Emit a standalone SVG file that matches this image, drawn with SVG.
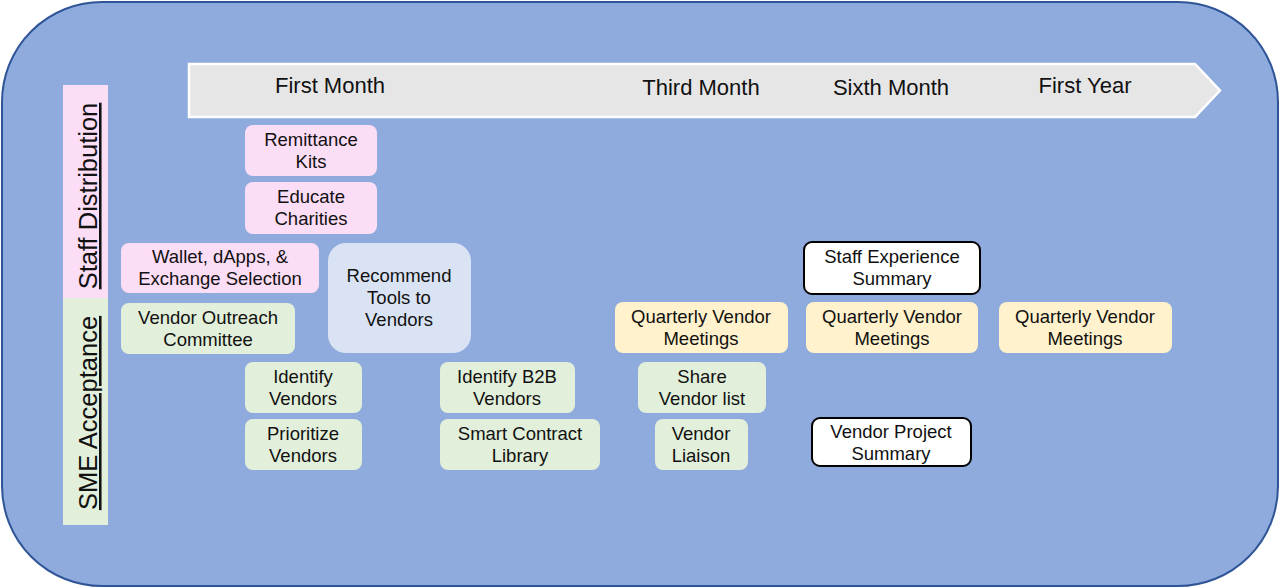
<svg xmlns="http://www.w3.org/2000/svg" width="1280" height="588" viewBox="0 0 1280 588">
<style>
text{font-family:"Liberation Sans",Arial,sans-serif;fill:#111;text-anchor:middle}
.n{font-size:18.5px}
.h{font-size:22px}
.lane{font-size:25.5px;text-decoration:underline}
.pk{fill:#FCDDF6}
.gr{fill:#E2EFDA}
.yl{fill:#FFF2CC}
.bl{fill:#DAE3F3}
.wh{fill:#FFFFFF;stroke:#000;stroke-width:2}
</style>
<rect x="2" y="2" width="1276" height="584" rx="100" ry="100" fill="#8FAADC" stroke="#2F5597" stroke-width="2"/>
<g id="timeline">
<polygon points="189,64 1195,64 1220,90.5 1195,117 189,117" fill="#E7E6E6" stroke="#FFFFFF" stroke-width="2.5"/>
<text class="h" x="330" y="93">First Month</text>
<text class="h" x="701" y="95">Third Month</text>
<text class="h" x="891" y="95">Sixth Month</text>
<text class="h" x="1085" y="93">First Year</text>
</g>
<g id="lane-staff">
<rect x="63" y="85" width="45" height="213" class="pk"/>
<text class="lane" transform="translate(97,196) rotate(-90)">Staff Distribution</text>
</g>
<g id="lane-sme">
<rect x="63" y="298" width="45" height="227" class="gr"/>
<text class="lane" transform="translate(97,413) rotate(-90)">SME Acceptance</text>
</g>
<g id="remittance-kits">
<rect x="245" y="125" width="132" height="51" rx="8" class="pk"/>
<text class="n" x="311" y="146">Remittance</text><text class="n" x="311" y="168">Kits</text>
</g>
<g id="educate-charities">
<rect x="245" y="182" width="132" height="52" rx="8" class="pk"/>
<text class="n" x="311" y="203">Educate</text><text class="n" x="311" y="225">Charities</text>
</g>
<g id="wallet">
<rect x="121" y="243" width="198" height="50" rx="8" class="pk"/>
<text class="n" x="220" y="263">Wallet, dApps, &amp;</text><text class="n" x="220" y="285">Exchange Selection</text>
</g>
<g id="recommend-tools">
<rect x="328" y="243" width="143" height="110" rx="18" class="bl"/>
<text class="n" x="399" y="282">Recommend</text><text class="n" x="399" y="304">Tools to</text><text class="n" x="399" y="326">Vendors</text>
</g>
<g id="vendor-outreach">
<rect x="121" y="303" width="174" height="51" rx="8" class="gr"/>
<text class="n" x="208" y="324">Vendor Outreach</text><text class="n" x="208" y="346">Committee</text>
</g>
<g id="identify-vendors">
<rect x="245" y="362" width="117" height="51" rx="8" class="gr"/>
<text class="n" x="303" y="383">Identify</text><text class="n" x="303" y="405">Vendors</text>
</g>
<g id="prioritize-vendors">
<rect x="245" y="419" width="117" height="51" rx="8" class="gr"/>
<text class="n" x="303" y="440">Prioritize</text><text class="n" x="303" y="462">Vendors</text>
</g>
<g id="identify-b2b">
<rect x="440" y="362" width="135" height="51" rx="8" class="gr"/>
<text class="n" x="507" y="383">Identify B2B</text><text class="n" x="507" y="405">Vendors</text>
</g>
<g id="smart-contract">
<rect x="440" y="419" width="160" height="51" rx="8" class="gr"/>
<text class="n" x="520" y="440">Smart Contract</text><text class="n" x="520" y="462">Library</text>
</g>
<g id="qvm-3">
<rect x="615" y="302" width="173" height="51" rx="8" class="yl"/>
<text class="n" x="701" y="323">Quarterly Vendor</text><text class="n" x="701" y="345">Meetings</text>
</g>
<g id="qvm-6">
<rect x="806" y="302" width="172" height="51" rx="8" class="yl"/>
<text class="n" x="892" y="323">Quarterly Vendor</text><text class="n" x="892" y="345">Meetings</text>
</g>
<g id="qvm-12">
<rect x="999" y="302" width="173" height="51" rx="8" class="yl"/>
<text class="n" x="1085" y="323">Quarterly Vendor</text><text class="n" x="1085" y="345">Meetings</text>
</g>
<g id="staff-experience">
<rect x="804" y="242" width="176" height="52" rx="8" class="wh"/>
<text class="n" x="892" y="263">Staff Experience</text><text class="n" x="892" y="285">Summary</text>
</g>
<g id="share-vendor-list">
<rect x="638" y="362" width="128" height="51" rx="8" class="gr"/>
<text class="n" x="702" y="383">Share</text><text class="n" x="702" y="405">Vendor list</text>
</g>
<g id="vendor-liaison">
<rect x="655" y="419" width="93" height="51" rx="8" class="gr"/>
<text class="n" x="701" y="440">Vendor</text><text class="n" x="701" y="462">Liaison</text>
</g>
<g id="vendor-project">
<rect x="812" y="418" width="159" height="48" rx="8" class="wh"/>
<text class="n" x="891" y="438">Vendor Project</text><text class="n" x="891" y="460">Summary</text>
</g>
<g id="connectors"></g>
</svg>
